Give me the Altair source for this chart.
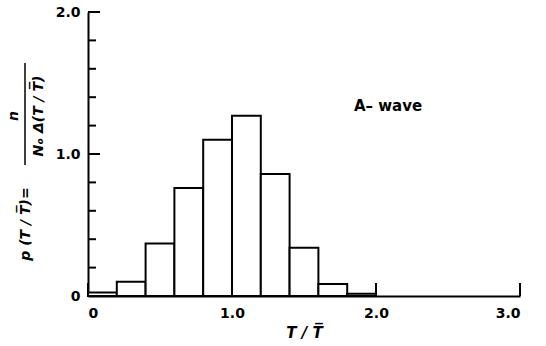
import altair as alt
import pandas as pd

# Histogram bins (T/T̄) and heights p(T/T̄)
bin_start = [0.0, 0.2, 0.4, 0.6, 0.8, 1.0, 1.2, 1.4, 1.6, 1.8]
bin_end = [0.2, 0.4, 0.6, 0.8, 1.0, 1.2, 1.4, 1.6, 1.8, 2.0]
p_values = [0.025, 0.10, 0.37, 0.76, 1.10, 1.27, 0.86, 0.34, 0.085, 0.015]

y_minor_ticks = [0.2, 0.4, 0.6, 0.8, 1.2, 1.4, 1.6, 1.8]
y_major_ticks = [1.0, 2.0]
y_label_values = [0.0, 1.0, 2.0]
x_major_ticks = [0.0, 1.0, 2.0, 3.0]

FONT = "DejaVu Sans"

bars_df = pd.DataFrame({"start": bin_start, "end": bin_end, "p": p_values})

xs = alt.Scale(domain=[0, 3], nice=False, zero=False)
ys = alt.Scale(domain=[0, 2], nice=False)

common_axis = dict(
    grid=False,
    ticks=False,
    domainColor="black",
    domainWidth=2,
    labelColor="black",
    labelFont=FONT,
    labelFontSize=14,
    labelFontWeight="bold",
    labelExpr="datum.value == 0 ? '0' : format(datum.value, '.1f')",
)

x_axis = alt.Axis(
    values=x_major_ticks,
    labelPadding=10,
    title="T / T\u0305",
    titleColor="black",
    titleFont=FONT,
    titleFontStyle="italic",
    titleFontWeight="bold",
    titleFontSize=15,
    titlePadding=5,
    **common_axis,
)
y_axis = alt.Axis(
    values=y_label_values,
    labelPadding=8,
    title=None,
    **common_axis,
)

bars = alt.Chart(bars_df).mark_bar(
    fill="white", stroke="black", strokeWidth=2
).encode(
    x=alt.X("start:Q", scale=xs, axis=x_axis),
    x2="end:Q",
    y=alt.Y("p:Q", scale=ys, axis=y_axis),
    y2=alt.datum(0),
)

ymin_df = pd.DataFrame({"v": y_minor_ticks})
ymaj_df = pd.DataFrame({"v": y_major_ticks})
xmaj_df = pd.DataFrame({"v": x_major_ticks})

y_minor = alt.Chart(ymin_df).mark_rule(color="black", strokeWidth=2).encode(
    y=alt.Y("v:Q", scale=ys), x=alt.value(0), x2=alt.value(8)
)
y_major = alt.Chart(ymaj_df).mark_rule(color="black", strokeWidth=2).encode(
    y=alt.Y("v:Q", scale=ys), x=alt.value(0), x2=alt.value(12)
)
x_major = alt.Chart(xmaj_df).mark_rule(color="black", strokeWidth=2).encode(
    x=alt.X("v:Q", scale=xs), y=alt.value(284), y2=alt.value(271)
)

label_df = pd.DataFrame({"t": ["A\u2013 wave"]})
wave_label = alt.Chart(label_df).mark_text(
    font=FONT, fontSize=15, fontWeight="bold", color="black"
).encode(text="t:N", x=alt.value(300), y=alt.value(94))

# Rotated y-axis title: p(T/T̄) = n / (N0 Δ(T/T̄))
lhs_df = pd.DataFrame({"t": ["p  (T / T\u0305)="]})
lhs = alt.Chart(lhs_df).mark_text(
    font=FONT, fontSize=14, fontWeight="bold", fontStyle="italic", angle=270, color="black"
).encode(text="t:N", x=alt.value(-62), y=alt.value(212))

num_df = pd.DataFrame({"t": ["n"]})
num = alt.Chart(num_df).mark_text(
    font=FONT, fontSize=14, fontWeight="bold", fontStyle="italic", angle=270, color="black"
).encode(text="t:N", x=alt.value(-74), y=alt.value(104))

den_df = pd.DataFrame({"t": ["N\u2092 \u0394(T / T\u0305)"]})
den = alt.Chart(den_df).mark_text(
    font=FONT, fontSize=14, fontWeight="bold", fontStyle="italic", angle=270, color="black"
).encode(text="t:N", x=alt.value(-49), y=alt.value(104))

frac_df = pd.DataFrame({"k": [0]})
frac = alt.Chart(frac_df).mark_rule(color="black", strokeWidth=1.5).encode(
    x=alt.value(-63), y=alt.value(51), y2=alt.value(153)
)

chart = alt.layer(
    bars, y_minor, y_major, x_major, wave_label, lhs, num, den, frac
).properties(
    width=432,
    height=284,
    background="white",
    autosize=alt.AutoSizeParams(type="none"),
    padding={"left": 88, "top": 12, "right": 26, "bottom": 50},
).configure_view(stroke=None)

chart.save("out.html", embed_options={"renderer": "svg", "actions": False})
